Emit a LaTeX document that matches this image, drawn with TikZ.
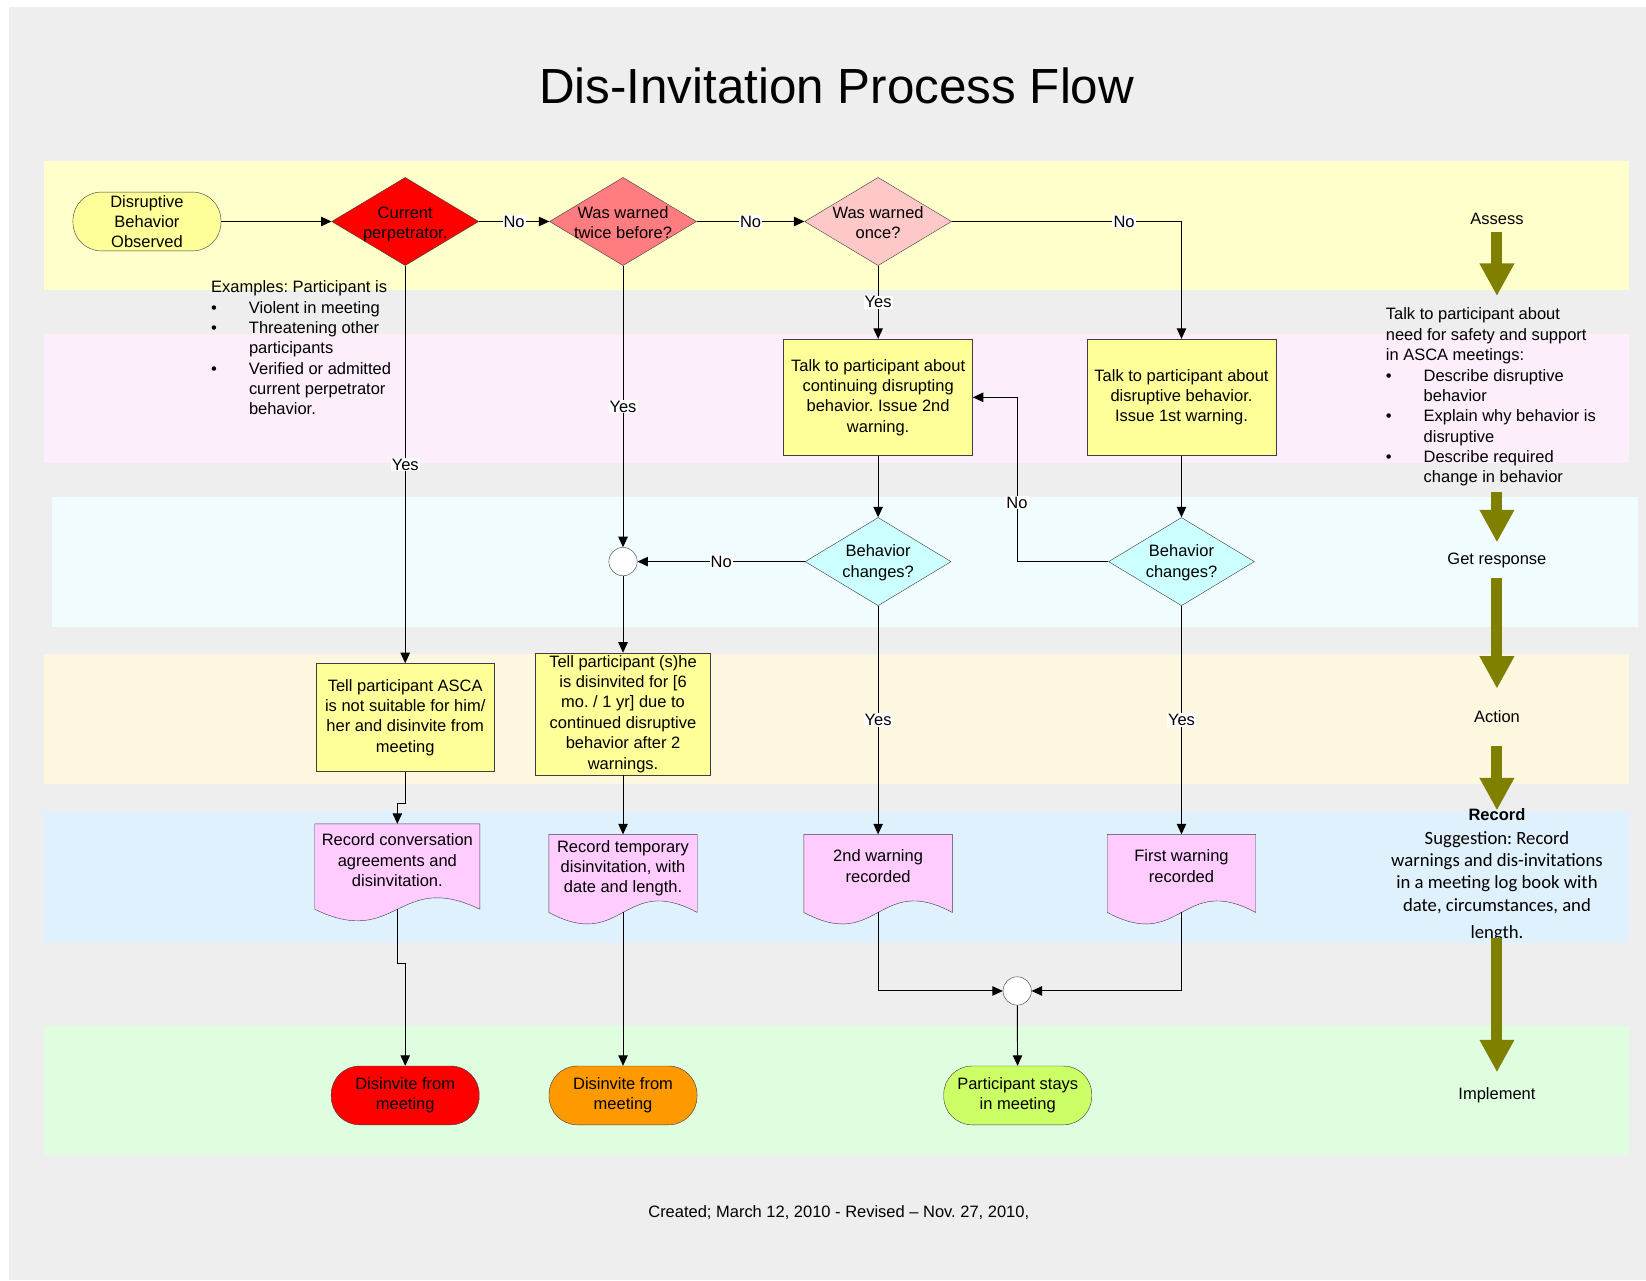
\documentclass[tikz,border=0pt]{standalone}
\usepackage{fontspec}
\setmainfont{Liberation Sans}
\newfontfamily\notefont{Carlito}
\usetikzlibrary{shapes.geometric}
\usetikzlibrary{arrows.meta}
\usetikzlibrary{calc}
\definecolor{pageGray}{HTML}{EEEEEE}
\definecolor{assessBand}{HTML}{FFFFCC}
\definecolor{talkBand}{HTML}{FCEEFB}
\definecolor{responseBand}{HTML}{F1FCFE}
\definecolor{actionBand}{HTML}{FEF7E0}
\definecolor{recordBand}{HTML}{DFF1FC}
\definecolor{implementBand}{HTML}{DFFEDF}
\definecolor{boxYellow}{HTML}{FFFF99}
\definecolor{twiceRed}{HTML}{FF7C80}
\definecolor{onceRed}{HTML}{FFC8C8}
\definecolor{askCyan}{HTML}{CCFFFF}
\definecolor{docPink}{HTML}{FFCCFF}
\definecolor{laterOrange}{HTML}{FF9900}
\definecolor{staysGreen}{HTML}{CCFF66}
\definecolor{phaseOlive}{HTML}{808000}
\definecolor{shapeLine}{HTML}{3F3F3F}
\pgfdeclarelayer{bands}
\pgfdeclarelayer{paper}
\pgfsetlayers{bands,paper,main}
\frenchspacing

\begin{document}
\begin{tikzpicture}[x=1pt,y=-1pt]

            \tikzstyle{flowFont} = [font=\fontsize{15.7}{19.4}\selectfont, text=black];
            \tikzstyle{flowText} = [flowFont, align=center];
            \tikzstyle{terminalNode} = [flowText, draw=shapeLine, rounded corners=27pt, minimum width=141pt, minimum height=56pt, inner sep=0pt];
            \tikzstyle{decisionNode} = [diamond, draw=shapeLine, minimum width=140pt, minimum height=84pt, inner sep=0pt];
            \tikzstyle{processNode} = [flowText, draw=shapeLine, fill=boxYellow, inner sep=0pt];
            \tikzstyle{docNode} = [minimum width=141pt, minimum height=74pt, inner sep=0pt];
            \tikzstyle{joinNode} = [circle, draw=shapeLine, fill=white, minimum size=27pt, inner sep=0pt];
            \tikzstyle{flowEdge} = [-{Triangle[length=10pt,width=9pt]}, line width=0.9pt];
            \tikzstyle{answer} = [flowText, fill=white, inner sep=1pt];
            \tikzstyle{phaseText} = [flowText, inner sep=0pt];
            \tikzstyle{phaseArrow} = [phaseOlive, line width=10.5pt, -{Triangle[length=31pt,width=31pt]}];

            \useasboundingbox (0,0) rectangle (1568,1220);

            % swim lanes
            \begin{pgfonlayer}{bands}
              \fill[white] (0,0) rectangle (1568,1220);
              \fill[pageGray] (9,7) rectangle (1568,1219);
              \fill[assessBand] (42,153) rectangle (1552,276);
              \fill[talkBand] (42,318) rectangle (1552,441);
              \fill[responseBand] (50,473) rectangle (1560,597);
              \fill[actionBand] (42,623) rectangle (1552,747);
              \fill[recordBand] (42,773) rectangle (1552,898);
              \fill[implementBand] (42,977) rectangle (1552,1100);
            \end{pgfonlayer}

            \node[font=\fontsize{47}{56}\selectfont] (title) at (797,82) {Dis-Invitation Process Flow};

            \node[terminalNode, fill=boxYellow] (observed) at (140,211) {Disruptive\\Behavior\\Observed};
            \node[decisionNode, fill=red, label={[flowText, yshift=-3pt]center:{Current\\perpetrator.}}] (current) at (386,211) {};
            \node[decisionNode, fill=twiceRed, label={[flowText, yshift=-1pt]center:{Was warned\\twice before?}}] (twice) at (593.5,211) {};
            \node[decisionNode, fill=onceRed, label={[flowText, yshift=-1pt]center:{Was warned\\once?}}] (once) at (836.5,211) {};

            \node[flowFont, anchor=north west, inner sep=0pt] (examples) at (201,265) {\begin{tabular}{@{}p{36pt}@{}l@{}}
              \multicolumn{2}{@{}l@{}}{Examples: Participant is}\\
              \textbullet & Violent in meeting\\
              \textbullet & Threatening other\\
                          & participants\\
              \textbullet & Verified or admitted\\
                          & current perpetrator\\
                          & behavior.
            \end{tabular}};

            \node[processNode, minimum width=180pt, minimum height=111pt] (warnSecond) at (836.5,378.5) {Talk to participant about\\continuing disrupting\\behavior. Issue 2nd\\warning.};
            \node[processNode, minimum width=180pt, minimum height=111pt] (warnFirst) at (1125.5,378.5) {Talk to participant about\\disruptive behavior.\\Issue 1st warning.};

            \node[joinNode] (mergeNo) at (593.5,535) {};
            \node[decisionNode, fill=askCyan, minimum width=139pt, label={[flowText, yshift=-1pt]center:{Behavior\\changes?}}] (changedSecond) at (836.5,535) {};
            \node[decisionNode, fill=askCyan, minimum width=139pt, label={[flowText, yshift=-1pt]center:{Behavior\\changes?}}] (changedFirst) at (1125.5,535) {};

            \node[processNode, minimum width=170pt, minimum height=103pt] (tellUnsuitable) at (386,683.5) {Tell participant ASCA\\is not suitable for him/\\her and disinvite from\\meeting};
            \node[processNode, minimum width=167pt, minimum height=116pt] (tellSuspended) at (593.5,680) {Tell participant (s)he\\is disinvited for [6\\mo. / 1 yr] due to\\continued disruptive\\behavior after 2\\warnings.};

            \node[docNode, minimum width=157pt, minimum height=81pt, label={[flowText, yshift=6pt]center:{Record conversation\\agreements and\\disinvitation.}}] (recConversation) at (378.5,825.5) {};
            \node[docNode, label={[flowText, yshift=5pt]center:{Record temporary\\disinvitation, with\\date and length.}}] (recSuspension) at (593.5,832) {};
            \node[docNode, label={[flowText, yshift=7pt]center:{2nd warning\\recorded}}] (recSecond) at (836.5,832) {};
            \node[docNode, label={[flowText, yshift=7pt]center:{First warning\\recorded}}] (recFirst) at (1125.5,832) {};

            \node[joinNode] (mergeYes) at (969,944) {};

            \node[terminalNode, fill=red] (disinviteNow) at (386,1043.5) {Disinvite from\\meeting};
            \node[terminalNode, fill=laterOrange] (disinviteLater) at (593.5,1043.5) {Disinvite from\\meeting};
            \node[terminalNode, fill=staysGreen] (staysIn) at (969.5,1043.5) {Participant stays\\in meeting};

            % document outlines
            \begin{pgfonlayer}{paper}
              \foreach \doc in {recConversation,recSuspension,recSecond,recFirst}
                \draw[shapeLine, fill=docPink] (\doc.north west) -- (\doc.north east) -- (\doc.south east)
                  .. controls ($(\doc.south)+(0,-38)$) and ($(\doc.south)+(0,38)$) .. (\doc.south west) -- cycle;
            \end{pgfonlayer}

            \draw[flowEdge] (observed) -- (current);
            \draw[flowEdge] (current) -- node[answer]{No} (twice);
            \draw[flowEdge] (twice) -- node[answer]{No} (once);
            \draw[flowEdge] (once) -| node[answer, pos=0.375]{No} (warnFirst);
            \draw[flowEdge] (once) -- node[answer]{Yes} (warnSecond);
            \draw[flowEdge] (current) -- node[answer]{Yes} (tellUnsuitable);
            \draw[flowEdge] (twice) -- node[answer]{Yes} (mergeNo);
            \draw[flowEdge] (warnSecond) -- (changedSecond);
            \draw[flowEdge] (warnFirst) -- (changedFirst);
            \draw[flowEdge] (changedSecond) -- node[answer]{No} (mergeNo);
            \draw[flowEdge] (changedFirst.west) -- ++(-87,0) |- node[answer, pos=0.18]{No} (warnSecond.east);
            \draw[flowEdge] (mergeNo) -- (tellSuspended);
            \draw[flowEdge] (changedSecond) -- node[answer]{Yes} (recSecond);
            \draw[flowEdge] (changedFirst) -- node[answer]{Yes} (recFirst);
            \draw[flowEdge] (tellUnsuitable.south) -- ++(0,30) -| (recConversation.north);
            \draw[flowEdge] (tellSuspended) -- (recSuspension);
            \draw[flowEdge] (recConversation.south) -- ++(0,52) -| (disinviteNow.north);
            \draw[flowEdge] (recSuspension) -- (disinviteLater);
            \draw[flowEdge] (recSecond.south) |- (mergeYes.west);
            \draw[flowEdge] (recFirst.south) |- (mergeYes.east);
            \draw[flowEdge] (mergeYes) -- (staysIn);

            % phases on the right
            \node[phaseText] (assess) at (1426,209) {Assess};
            \node[flowFont, anchor=north west, inner sep=0pt] (talkRules) at (1320,291) {\begin{tabular}{@{}p{36pt}@{}l@{}}
              \multicolumn{2}{@{}l@{}}{Talk to participant about}\\
              \multicolumn{2}{@{}l@{}}{need for safety and support}\\
              \multicolumn{2}{@{}l@{}}{in ASCA meetings:}\\
              \textbullet & Describe disruptive\\
                          & behavior\\
              \textbullet & Explain why behavior is\\
                          & disruptive\\
              \textbullet & Describe required\\
                          & change in behavior
            \end{tabular}};
            \node[phaseText] (response) at (1426,534) {Get response};
            \node[phaseText] (action) at (1426,683) {Action};
            \node[phaseText, font=\fontsize{15.7}{19.4}\selectfont\bfseries] (recordHead) at (1426,776) {Record};
            \node[anchor=north, align=center, inner sep=0pt, font=\notefont\fontsize{17.8}{21.4}\selectfont] (recordNote) at (1426,791.5) {Suggestion: Record\\warnings and dis-invitations\\in a meeting log book with\\date, circumstances, and\\[4pt]length.};
            \node[phaseText] (implement) at (1426,1043) {Implement};

            \draw[phaseArrow, shorten <=6pt, shorten >=9pt] (assess) -- (assess |- talkRules.north);
            \draw[phaseArrow, shorten <=3pt, shorten >=10pt] (response |- talkRules.south) -- (response);
            \draw[phaseArrow, shorten <=9pt, shorten >=21pt] (response) -- (action);
            \draw[phaseArrow, shorten <=22pt, shorten >=-2pt] (action) -- (recordHead);
            \draw[phaseArrow, shorten <=-3pt, shorten >=14pt] (recordNote) -- (implement);

            \node[flowFont] (footer) at (799,1155) {Created; March 12, 2010 - Revised – Nov. 27, 2010,};
          \end{tikzpicture}
\end{document}
